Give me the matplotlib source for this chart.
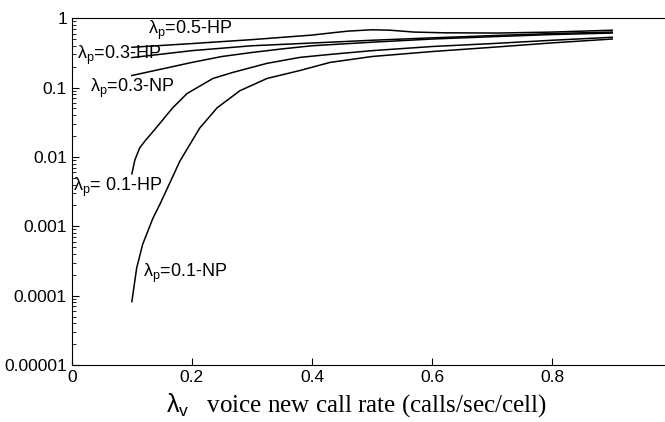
import matplotlib
matplotlib.use("Agg")
import matplotlib.pyplot as plt
from matplotlib.ticker import FixedLocator, LogLocator, NullFormatter

plt.rcParams["font.family"] = ["Liberation Sans", "DejaVu Sans"]
plt.rcParams["mathtext.fontset"] = "custom"
plt.rcParams["mathtext.rm"] = "Liberation Sans"
plt.rcParams["mathtext.it"] = "Liberation Sans:italic"

# voice new call rate (x) and blocking probability (y) for each curve
x_hp05 = [0.10, 0.20, 0.30, 0.40, 0.43, 0.46, 0.50, 0.53, 0.57, 0.62, 0.71, 0.80, 0.90]
y_hp05 = [0.38, 0.43, 0.49, 0.57, 0.61, 0.65, 0.68, 0.67, 0.63, 0.615, 0.61, 0.63, 0.67]

x_hp03 = [0.10, 0.20, 0.30, 0.43, 0.50, 0.60, 0.70, 0.80, 0.90]
y_hp03 = [0.27, 0.34, 0.40, 0.45, 0.48, 0.52, 0.56, 0.60, 0.63]

x_np03 = [0.10, 0.15, 0.20, 0.25, 0.30, 0.35, 0.40, 0.50, 0.60, 0.70, 0.80, 0.90]
y_np03 = [0.149, 0.185, 0.23, 0.28, 0.32, 0.36, 0.40, 0.45, 0.50, 0.54, 0.58, 0.61]

x_hp01 = [0.10, 0.105, 0.113, 0.122, 0.133, 0.15, 0.168, 0.192, 0.235, 0.268, 0.325, 0.38, 0.43, 0.50, 0.60, 0.70, 0.80, 0.90]
y_hp01 = [0.0057, 0.009, 0.0135, 0.017, 0.022, 0.033, 0.051, 0.082, 0.135, 0.165, 0.223, 0.272, 0.30, 0.34, 0.39, 0.43, 0.48, 0.53]

x_np01 = [0.10, 0.108, 0.118, 0.135, 0.147, 0.18, 0.213, 0.242, 0.28, 0.325, 0.38, 0.43, 0.50, 0.60, 0.70, 0.80, 0.90]
y_np01 = [0.000082, 0.00025, 0.00055, 0.0013, 0.0021, 0.0087, 0.026, 0.051, 0.090, 0.135, 0.176, 0.23, 0.28, 0.33, 0.38, 0.44, 0.50]

curves = [(x_hp05, y_hp05), (x_hp03, y_hp03), (x_np03, y_np03), (x_hp01, y_hp01), (x_np01, y_np01)]

lam_p = r"$\mathrm{λ}_\mathrm{p}$"
labels = [lam_p + "=0.5-HP", lam_p + "=0.3-HP", lam_p + "=0.3-NP", lam_p + "= 0.1-HP", lam_p + "=0.1-NP"]
label_x = [0.127, 0.008, 0.03, 0.002, 0.118]
label_y = [0.67, 0.29, 0.097, 0.0036, 0.00021]

x_ticks = [0, 0.2, 0.4, 0.6, 0.8]
x_tick_labels = ["0", "0.2", "0.4", "0.6", "0.8"]
y_ticks = [1e-5, 1e-4, 1e-3, 1e-2, 1e-1, 1]
y_tick_labels = ["0.00001", "0.0001", "0.001", "0.01", "0.1", "1"]

fig = plt.figure(figsize=(6.65, 4.22), dpi=100)
ax = fig.add_axes([0.108, 0.135, 0.892, 0.822])

for xs, ys in curves:
    ax.plot(xs, ys, color="black", linewidth=1.1)

for txt, lx, ly in zip(labels, label_x, label_y):
    ax.text(lx, ly, txt, fontsize=13, va="center", ha="left")

ax.set_yscale("log")
ax.set_xlim(0, 0.988)
ax.set_ylim(1e-5, 1)

ax.xaxis.set_major_locator(FixedLocator(x_ticks))
ax.set_xticklabels(x_tick_labels)
ax.yaxis.set_major_locator(FixedLocator(y_ticks))
ax.set_yticklabels(y_tick_labels)
ax.yaxis.set_minor_locator(LogLocator(base=10, subs=range(2, 10)))
ax.yaxis.set_minor_formatter(NullFormatter())

ax.tick_params(axis="both", which="major", direction="in", length=5, labelsize=12.5)
ax.tick_params(axis="y", which="minor", direction="in", length=3)
ax.spines["right"].set_visible(False)

ax.set_xlabel(r"$\mathrm{λ}_\mathrm{v}$   voice new call rate (calls/sec/cell)",
              family="Liberation Serif", fontsize=18)
ax.xaxis.set_label_coords(0.48, -0.075)

fig.savefig("out.png", dpi=100)
